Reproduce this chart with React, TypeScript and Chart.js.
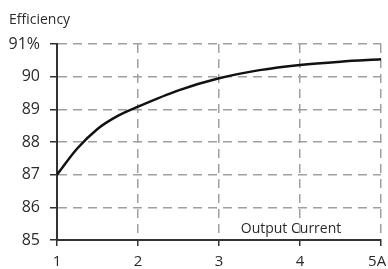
import React, { useEffect, useRef } from "react";
import { Chart, registerables } from "chart.js";

Chart.register(...registerables);

// Data
const currents = [1, 1.25, 1.5, 1.75, 2, 2.5, 3, 3.5, 4, 4.5, 5];
const efficiency = [87.0, 87.8, 88.4, 88.8, 89.08, 89.58, 89.95, 90.2, 90.36, 90.46, 90.53];

const xTickValues = [1, 2, 3, 4, 5];
const xTickLabels = ["1", "2", "3", "4", "5A  "];
const yTickValues = [85, 86, 87, 88, 89, 90, 91];
const yTickLabels = ["85", "86", "87", "88", "89", "90", "91%"];

const yAxisTitle = "Efficiency";
const xAxisTitle = "Output Current";

const FONT = '"Open Sans", sans-serif';
const TEXT_COLOR = "#2b2b2b";
const GRID_COLOR = "#a0a0a0";
const AXIS_COLOR = "#333333";

const textPlugin = {
  id: "extraTexts",
  afterDraw(chart: any) {
    const { ctx, chartArea } = chart;
    ctx.save();
    ctx.fillStyle = TEXT_COLOR;
    ctx.font = `14px ${FONT}`;
    ctx.textBaseline = "alphabetic";
    ctx.textAlign = "left";
    ctx.fillText(yAxisTitle, 9, 24);
    ctx.textAlign = "center";
    ctx.fillText(xAxisTitle, chartArea.right - 90, chartArea.bottom - 7);
    ctx.restore();
  },
};

export default function App() {
  const canvasRef = useRef<HTMLCanvasElement | null>(null);

  useEffect(() => {
    const canvas = canvasRef.current;
    if (!canvas) return;
    const chart = new Chart(canvas, {
      type: "line",
      data: {
        datasets: [
          {
            data: currents.map((x, i) => ({ x, y: efficiency[i] })),
            borderColor: "#111111",
            borderWidth: 2.5,
            pointRadius: 0,
            cubicInterpolationMode: "monotone",
            fill: false,
          },
        ],
      },
      options: {
        responsive: false,
        animation: false,
        events: [],
        layout: { padding: { top: 44, right: 7, left: 0, bottom: 0 } },
        plugins: {
          legend: { display: false },
          tooltip: { enabled: false },
          title: { display: false },
        },
        scales: {
          x: {
            type: "linear",
            min: 1,
            max: 5,
            afterBuildTicks: (scale: any) => {
              scale.ticks = xTickValues.map((v) => ({ value: v }));
            },
            afterFit: (scale: any) => {
              scale.height = 29;
              scale.paddingLeft = 0;
              scale.paddingRight = 0;
            },
            ticks: {
              autoSkip: false,
              maxRotation: 0,
              padding: 7,
              color: TEXT_COLOR,
              font: { family: FONT, size: 15 },
              callback: (v: any) => {
                const i = xTickValues.indexOf(Number(v));
                return i >= 0 ? xTickLabels[i] : "";
              },
            },
            grid: {
              color: GRID_COLOR,
              lineWidth: 1.5,
              tickColor: AXIS_COLOR,
              tickLength: 6,
              tickWidth: 1.5,
            },
            border: { display: true, color: AXIS_COLOR, width: 2, dash: [9, 6] },
          },
          y: {
            type: "linear",
            min: 85,
            max: 91,
            afterBuildTicks: (scale: any) => {
              scale.ticks = yTickValues.map((v) => ({ value: v }));
            },
            afterFit: (scale: any) => {
              scale.width = 57;
              scale.paddingTop = 0;
              scale.paddingBottom = 0;
            },
            ticks: {
              autoSkip: false,
              padding: 10,
              color: TEXT_COLOR,
              font: { family: FONT, size: 16 },
              callback: (v: any) => {
                const i = yTickValues.indexOf(Number(v));
                return i >= 0 ? yTickLabels[i] : "";
              },
            },
            grid: {
              color: GRID_COLOR,
              lineWidth: 1.5,
              tickColor: AXIS_COLOR,
              tickLength: 7,
              tickWidth: 1.5,
            },
            border: { display: true, color: AXIS_COLOR, width: 2, dash: [9, 6] },
          },
        },
      },
      plugins: [textPlugin],
    } as any);
    return () => chart.destroy();
  }, []);

  return (
    <div
      style={{
        position: "fixed",
        left: 0,
        top: 0,
        width: 388,
        height: 269,
        background: "#ffffff",
      }}
    >
      <canvas ref={canvasRef} width={388} height={269} style={{ display: "block" }} />
    </div>
  );
}
